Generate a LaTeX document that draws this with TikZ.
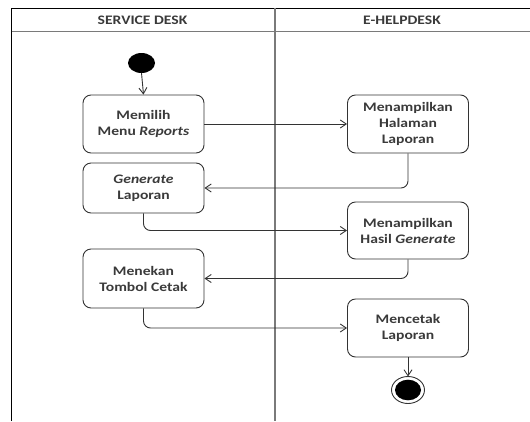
\documentclass[tikz,border=0pt]{standalone}
\usepackage{fontspec}
\setmainfont{Carlito}[FakeStretch=1.2]
\usetikzlibrary{arrows.meta}
\definecolor{boxline}{HTML}{333333}
\definecolor{txt}{HTML}{3A3A3A}
\definecolor{lanegray}{HTML}{7A7A7A}
\begin{document}
\begin{tikzpicture}[x=1pt,y=-1pt,
  act/.style={draw=boxline, line width=0.9pt, rounded corners=8pt,
    minimum width=121pt, align=center, text=txt, inner sep=0pt,
    font=\bfseries\fontsize{13}{16}\selectfont},
  lanehead/.style={text=txt, font=\bfseries\fontsize{13}{15}\selectfont},
  flow/.style={draw=boxline, line width=0.9pt, rounded corners=7pt,
    -{Straight Barb[length=6pt,width=8pt]}},
]
\useasboundingbox (0,0) rectangle (530,421);

% swimlane frame
\draw[line width=1pt] (11.5,421) -- (11.5,8) -- (530,8);
\draw[lanegray, line width=0.9pt] (11.5,31) -- (530,31);
\draw[lanegray, line width=2pt] (275,8) -- (275,421);
\node[lanehead] (laneA) at (142.5,20) {SERVICE DESK};
\node[lanehead] (laneB) at (402,20) {E-HELPDESK};

% initial and final states
\fill (141.5,63) ellipse [x radius=13.5, y radius=10];
\coordinate (start) at (141.5,73);
\draw[boxline, line width=0.9pt, fill=white] (408,390) ellipse [x radius=16.5, y radius=13.5];
\fill (408,390) ellipse [x radius=13, y radius=10.3];
\coordinate (stop) at (408,376.5);

% activities
\node[act, minimum height=58pt] (memilih) at (143.5,124) {Memilih\\Menu \textit{Reports}};
\node[act, minimum height=50pt] (generate) at (143.5,188) {\textit{Generate}\\Laporan};
\node[act, minimum height=59pt] (menekan) at (143.5,278.5) {Menekan\\Tombol Cetak};
\node[act, minimum height=58pt] (halaman) at (408,124) {Menampilkan\\Halaman\\Laporan};
\node[act, minimum height=57pt] (hasil) at (408,230.5) {Menampilkan\\Hasil \textit{Generate}};
\node[act, minimum height=58pt] (cetak) at (408,328) {Mencetak\\Laporan};

% control flow
\draw[flow] (start) -- (memilih.north);
\draw[flow] (memilih.east) -- (halaman.west);
\draw[flow] (halaman.south) |- (generate.east);
\draw[flow] (generate.south) |- (hasil.west);
\draw[flow] (hasil.south) |- (menekan.east);
\draw[flow] (menekan.south) |- (cetak.west);
\draw[flow] (cetak.south) -- (stop);
\end{tikzpicture}
\end{document}
